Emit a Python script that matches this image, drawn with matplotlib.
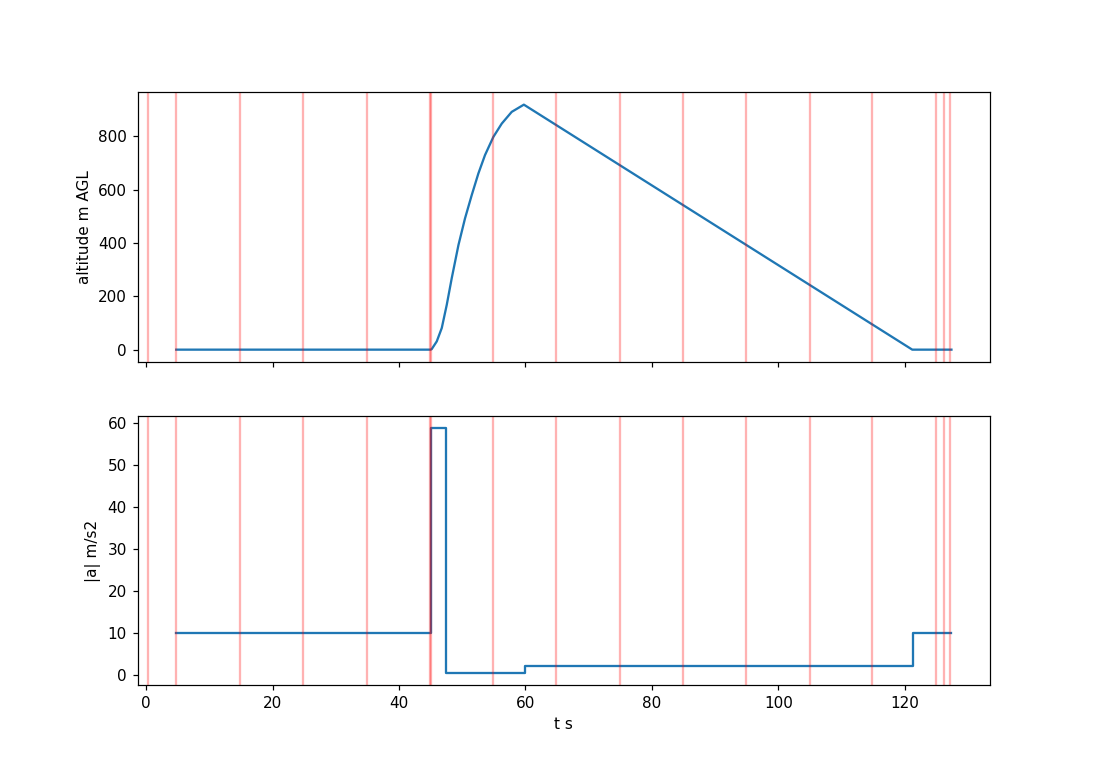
import matplotlib
matplotlib.use("Agg")
import matplotlib.pyplot as plt

# altitude trace (s, m AGL)
alt_t = [4.75, 45.0, 45.17, 45.97, 46.76, 47.55, 48.34, 49.4, 50.44, 51.5,
         52.55, 53.6, 54.92, 56.25, 57.83, 59.75, 121.2, 127.4]
alt_h = [0, 0, 2, 31, 81, 168, 268, 392, 492, 579,
         660, 729, 797, 847, 891, 918, 0, 0]

# acceleration magnitude trace (s, m/s2)
acc_t = [4.75, 45.0, 45.0, 47.4, 47.4, 59.9, 59.9, 121.3, 121.3, 127.4]
acc_a = [9.8, 9.8, 58.8, 58.8, 0.35, 0.35, 2.1, 2.1, 9.8, 9.8]

# event markers (s)
events = [0.35, 4.75, 14.85, 24.85, 34.9, 44.97, 45.03, 54.9, 64.9, 74.9,
          84.85, 94.9, 104.95, 114.9, 125.0, 126.2, 127.2]

fig, (ax1, ax2) = plt.subplots(2, 1, sharex=True, figsize=(10, 7), dpi=110)

ax1.plot(alt_t, alt_h)
ax2.plot(acc_t, acc_a)
for ax in (ax1, ax2):
    for e in events:
        ax.axvline(e, color="red", alpha=0.3)

ax1.set_ylabel("altitude m AGL")
ax2.set_ylabel("|a| m/s2")
ax2.set_xlabel("t s")
ax2.set_xlim(-1.38, 133.5)

fig.savefig("out.png", dpi=110)
